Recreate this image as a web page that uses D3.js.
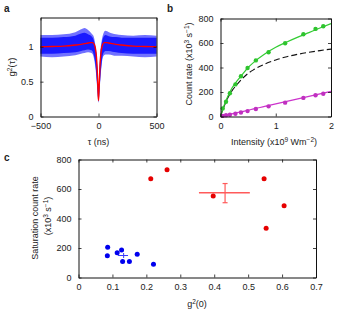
<!DOCTYPE html>
<html>
<head>
<meta charset="utf-8">
<script src="https://cdn.jsdelivr.net/npm/d3@7"></script>
<style>
  body { margin: 0; background: #fff; }
  text { font-family: "Liberation Sans", Arial, sans-serif; fill: #222; }
</style>
</head>
<body>
<div id="chart"></div>
<script>
// ---- panel a : g2(tau) ----
const bandTau = [-500, -400, -300, -200, -150, -120, -90, -60, -40, -25, -15, -8, -3, 0, 3, 8, 15, 25, 40, 60, 90, 120, 150, 200, 300, 400, 500];
const bandSparseHi = [1.17, 1.17, 1.18, 1.21, 1.25, 1.27, 1.24, 1.19, 1.14, 1.0, 0.86, 0.64, 0.44, 0.31, 0.44, 0.66, 0.9, 1.06, 1.18, 1.23, 1.21, 1.19, 1.18, 1.17, 1.16, 1.17, 1.16];
const bandDenseHi = [1.13, 1.13, 1.14, 1.16, 1.19, 1.2, 1.18, 1.15, 1.09, 0.97, 0.83, 0.61, 0.41, 0.29, 0.41, 0.63, 0.87, 1.02, 1.13, 1.17, 1.15, 1.14, 1.14, 1.13, 1.13, 1.13, 1.13];
const bandDenseLo = [0.9, 0.9, 0.91, 0.92, 0.94, 0.95, 0.96, 0.95, 0.88, 0.72, 0.52, 0.35, 0.25, 0.21, 0.25, 0.36, 0.54, 0.74, 0.9, 0.94, 0.94, 0.93, 0.92, 0.91, 0.9, 0.9, 0.9];
const bandSparseLo = [0.86, 0.85, 0.86, 0.88, 0.9, 0.91, 0.92, 0.91, 0.84, 0.68, 0.49, 0.32, 0.23, 0.2, 0.23, 0.33, 0.51, 0.71, 0.86, 0.89, 0.89, 0.88, 0.87, 0.87, 0.86, 0.85, 0.86];
const fitTau = [-500, -400, -300, -200, -150, -100, -70, -50, -35, -25, -18, -12, -7, -3, 0, 3, 7, 12, 18, 25, 35, 50, 70, 100, 150, 200, 300, 400, 500];
const fitG = [1.0, 1.005, 1.01, 1.025, 1.035, 1.05, 1.06, 1.06, 1.03, 0.96, 0.86, 0.7, 0.5, 0.33, 0.23, 0.33, 0.5, 0.7, 0.86, 0.96, 1.03, 1.06, 1.06, 1.05, 1.035, 1.025, 1.01, 1.005, 1.0];
const aTicksX = [-500, 0, 500];
const aTicksY = [0, 0.5, 1];

// ---- panel b : count rate vs intensity ----
const intensity = [0.04, 0.1, 0.17, 0.27, 0.37, 0.49, 0.64, 0.87, 1.17, 1.5, 1.72, 1.86];
const greenRate = [65, 120, 190, 262, 328, 396, 458, 525, 598, 672, 715, 737];
const magentaRate = [5, 10, 14, 22, 33, 44, 61, 83, 113, 152, 174, 186];
const curveI = [0, 0.05, 0.1, 0.2, 0.3, 0.4, 0.5, 0.6, 0.8, 1.0, 1.2, 1.4, 1.6, 1.8, 2.0];
const greenFit = [0, 71, 131, 226, 290, 345, 400, 442, 510, 565, 608, 648, 685, 722, 758];
const dashedFit = [0, 66, 120, 205, 262, 312, 352, 382, 428, 462, 488, 508, 524, 538, 550];
const magentaFit = [0, 5, 10, 21, 31, 41, 51, 62, 82, 103, 123, 144, 164, 185, 205];
const bTicksX = [0, 1, 2];
const bTicksY = [0, 200, 400, 600, 800];

// ---- panel c : saturation rate vs g2(0) ----
const redG2 = [0.213, 0.261, 0.397, 0.547, 0.606, 0.553];
const redSat = [669, 730, 552, 669, 487, 334];
const blueG2 = [0.086, 0.085, 0.114, 0.127, 0.13, 0.15, 0.173, 0.221];
const blueSat = [205, 147, 167, 187, 108, 108, 158, 90];
const redMean = { x: 0.432, y: 574, xLo: 0.355, xHi: 0.505, yLo: 507, yHi: 637 };
const blueMean = { x: 0.133, y: 149, xLo: 0.116, xHi: 0.146, yLo: 132, yHi: 166 };
const cTicksX = [0, 0.1, 0.2, 0.3, 0.4, 0.5, 0.6, 0.7];
const cTicksY = [0, 200, 400, 600, 800];

const fullWidth = 339, fullHeight = 316;
const svg = d3.select("#chart").append("svg")
  .attr("width", fullWidth)
  .attr("height", fullHeight);

// write text with superscript parts: [["text"], ["sup", true], ...]
function richText(sel, parts) {
  let up = false;
  parts.forEach(([t, sup]) => {
    const ts = sel.append("tspan").text(t);
    if (sup && !up) { ts.attr("dy", -3.5).style("font-size", "6.5px"); up = true; }
    else if (sup) { ts.style("font-size", "6.5px"); }
    else if (up) { ts.attr("dy", 3.5); up = false; }
  });
  return sel;
}

// boxed axes with inward ticks on all four sides
function frame(x, y, ticksX, ticksY, fmtX, fmtY) {
  const [x0, x1] = x.range();
  const [y0, y1] = y.range();
  const g = svg.append("g");
  const tl = 3;
  g.append("g").attr("transform", `translate(0,${y0})`)
    .call(d3.axisBottom(x).tickValues(ticksX).tickSizeInner(-tl).tickSizeOuter(0).tickPadding(6).tickFormat(fmtX));
  g.append("g").attr("transform", `translate(0,${y1})`)
    .call(d3.axisTop(x).tickValues(ticksX).tickSizeInner(-tl).tickSizeOuter(0).tickFormat(""));
  g.append("g").attr("transform", `translate(${x0},0)`)
    .call(d3.axisLeft(y).tickValues(ticksY).tickSizeInner(-tl).tickSizeOuter(0).tickPadding(7).tickFormat(fmtY));
  g.append("g").attr("transform", `translate(${x1},0)`)
    .call(d3.axisRight(y).tickValues(ticksY).tickSizeInner(-tl).tickSizeOuter(0).tickFormat(""));
  g.selectAll(".domain").attr("stroke", "#111").attr("stroke-width", 1);
  g.selectAll(".tick line").attr("stroke", "#111").attr("stroke-width", 0.8);
  g.selectAll(".tick text")
    .style("font-size", "9px")
    .style("font-family", "Liberation Sans, Arial, sans-serif")
    .attr("fill", "#222");
  return g;
}

const minusFmt = (d) => (d < 0 ? "\u2212" + Math.abs(d) : String(d));

// === Panel a ===
const xa = d3.scaleLinear().domain([-500, 500]).range([40.5, 156.5]);
const ya = d3.scaleLinear().domain([0, 1.42]).range([116.5, 17.5]);
const pa = svg.append("g");
const bandA = bandTau.map((t, i) => ({ t, sh: bandSparseHi[i], sl: bandSparseLo[i], dh: bandDenseHi[i], dl: bandDenseLo[i] }));
pa.append("path").datum(bandA)
  .attr("fill", "#4d4dff").attr("opacity", 0.8)
  .attr("d", d3.area().x((d) => xa(d.t)).y0((d) => ya(d.sl)).y1((d) => ya(d.sh)).curve(d3.curveMonotoneX));
pa.append("path").datum(bandA)
  .attr("fill", "#1a1aff")
  .attr("d", d3.area().x((d) => xa(d.t)).y0((d) => ya(d.dl)).y1((d) => ya(d.dh)).curve(d3.curveMonotoneX));
pa.append("path").datum(fitTau.map((t, i) => [t, fitG[i]]))
  .attr("fill", "none")
  .attr("stroke", "#ff0000")
  .attr("stroke-width", 1.4)
  .attr("d", d3.line().x((d) => xa(d[0])).y((d) => ya(d[1])).curve(d3.curveMonotoneX));
frame(xa, ya, aTicksX, aTicksY, minusFmt, (d) => String(d));

svg.append("text").attr("x", 98.5).attr("y", 145).attr("text-anchor", "middle")
  .style("font-size", "9px").text("\u03c4 (ns)");
richText(svg.append("text")
  .attr("transform", "translate(15,67) rotate(-90)")
  .attr("text-anchor", "middle").style("font-size", "9.5px"),
  [["g"], ["2", true], ["(\u03c4)"]]);

// === Panel b ===
const xb = d3.scaleLinear().domain([0, 2]).range([220.5, 331]);
const yb = d3.scaleLinear().domain([0, 800]).range([116.5, 18.5]);
const pb = svg.append("g");
const lineB = d3.line().x((d) => xb(d[0])).y((d) => yb(d[1])).curve(d3.curveMonotoneX);
pb.append("path").datum(curveI.map((v, i) => [v, magentaFit[i]]))
  .attr("fill", "none").attr("stroke", "#cc33cc").attr("stroke-width", 1.2).attr("d", lineB);
pb.append("path").datum(curveI.map((v, i) => [v, dashedFit[i]]))
  .attr("fill", "none").attr("stroke", "#111").attr("stroke-width", 1.1)
  .attr("stroke-dasharray", "6,3").attr("d", lineB);
pb.append("path").datum(curveI.map((v, i) => [v, greenFit[i]]))
  .attr("fill", "none").attr("stroke", "#33cc33").attr("stroke-width", 1.2).attr("d", lineB);
pb.selectAll("circle.g").data(intensity).enter().append("circle")
  .attr("cx", (d) => xb(d)).attr("cy", (d, i) => yb(greenRate[i])).attr("r", 2.2)
  .attr("fill", "#2ec42e");
pb.selectAll("circle.m").data(intensity).enter().append("circle")
  .attr("cx", (d) => xb(d)).attr("cy", (d, i) => yb(magentaRate[i])).attr("r", 2.2)
  .attr("fill", "#c030c0");
frame(xb, yb, bTicksX, bTicksY, (d) => String(d), (d) => String(d));

richText(svg.append("text").attr("x", 274).attr("y", 145).attr("text-anchor", "middle")
  .style("font-size", "9px"),
  [["Intensity (x10"], ["9", true], [" Wm"], ["\u22122", true], [")"]]);
richText(svg.append("text")
  .attr("transform", "translate(192,64) rotate(-90)")
  .attr("text-anchor", "middle").style("font-size", "9px"),
  [["Count rate (x10"], ["3", true], [" s"], ["\u22121", true], [")"]]);

// === Panel c ===
const xc = d3.scaleLinear().domain([0, 0.7]).range([78.5, 316]);
const yc = d3.scaleLinear().domain([0, 800]).range([277.5, 159.5]);
const pc = svg.append("g");
// error bars
pc.append("line").attr("x1", xc(redMean.xLo)).attr("x2", xc(redMean.xHi))
  .attr("y1", yc(redMean.y)).attr("y2", yc(redMean.y))
  .attr("stroke", "#ff5a5a").attr("stroke-width", 1.5);
pc.append("line").attr("x1", xc(redMean.x)).attr("x2", xc(redMean.x))
  .attr("y1", yc(redMean.yLo)).attr("y2", yc(redMean.yHi))
  .attr("stroke", "#ff5a5a").attr("stroke-width", 1.2);
[redMean.yLo, redMean.yHi].forEach((v) => {
  pc.append("line").attr("x1", xc(redMean.x) - 2.5).attr("x2", xc(redMean.x) + 2.5)
    .attr("y1", yc(v)).attr("y2", yc(v))
    .attr("stroke", "#ff5a5a").attr("stroke-width", 1.2);
});
pc.selectAll("circle.r").data(redG2).enter().append("circle")
  .attr("cx", (d) => xc(d)).attr("cy", (d, i) => yc(redSat[i])).attr("r", 2.5)
  .attr("fill", "#e60000");
pc.selectAll("circle.b").data(blueG2).enter().append("circle")
  .attr("cx", (d) => xc(d)).attr("cy", (d, i) => yc(blueSat[i])).attr("r", 2.5)
  .attr("fill", "#0000ee");
pc.append("line").attr("x1", xc(blueMean.xLo)).attr("x2", xc(blueMean.xHi))
  .attr("y1", yc(blueMean.y)).attr("y2", yc(blueMean.y))
  .attr("stroke", "#3a3aff").attr("stroke-width", 1);
pc.append("line").attr("x1", xc(blueMean.x)).attr("x2", xc(blueMean.x))
  .attr("y1", yc(blueMean.yLo)).attr("y2", yc(blueMean.yHi))
  .attr("stroke", "#3a3aff").attr("stroke-width", 1);
frame(xc, yc, cTicksX, cTicksY, (d) => String(d), (d) => String(d));

richText(svg.append("text").attr("x", 197).attr("y", 307).attr("text-anchor", "middle")
  .style("font-size", "9px"),
  [["g"], ["2", true], ["(0)"]]);
svg.append("text")
  .attr("transform", "translate(38,218) rotate(-90)")
  .attr("text-anchor", "middle").style("font-size", "9px")
  .text("Saturation count rate");
richText(svg.append("text")
  .attr("transform", "translate(51,216) rotate(-90)")
  .attr("text-anchor", "middle").style("font-size", "9px"),
  [["(x10"], ["3", true], [" s"], ["\u22121", true], [")"]]);

// === Panel letters ===
[["a", 4, 12], ["b", 167, 12], ["c", 4, 161]].forEach(([t, x, y]) => {
  svg.append("text").attr("x", x).attr("y", y)
    .style("font-size", "10px").style("font-weight", "bold").text(t);
});
</script>
</body>
</html>
